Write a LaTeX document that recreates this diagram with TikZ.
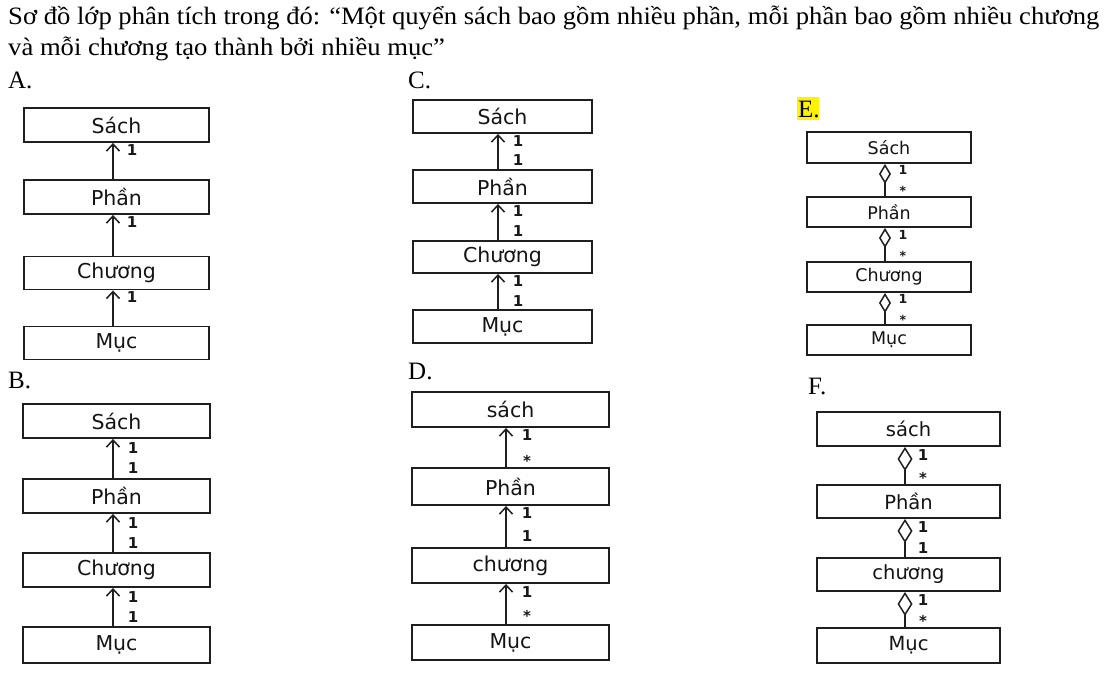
\documentclass[tikz,border=0pt]{standalone}
\usepackage{fontspec}
\setmainfont{Liberation Serif}
\newfontfamily\boxfont{DejaVu Sans}
\usetikzlibrary{arrows.meta,shapes.geometric}
\begin{document}
\begin{tikzpicture}[x=1pt,y=-1pt,
  cls/.style={draw=black!88, line width=1.9pt, fill=white, inner sep=0pt, text=black!92},
  bigf/.style={font=\boxfont\fontsize{20.5}{21}\selectfont},
  midf/.style={font=\boxfont\fontsize{19.5}{20}\selectfont},
  smlf/.style={font=\boxfont\fontsize{17.5}{18}\selectfont},
  mult/.style={inner sep=0pt, text=black!90, font=\boxfont\bfseries\fontsize{15}{15}\selectfont},
  smult/.style={inner sep=0pt, text=black!90, font=\boxfont\bfseries\fontsize{12.5}{12.5}\selectfont},
  assoc/.style={draw=black!88, line width=1.5pt, -{Straight Barb[length=7pt,width=13pt,line width=1.5pt]}},
  aggr/.style={draw=black!88, line width=1.5pt, -{Diamond[open,length=20pt,width=12pt,line width=1.5pt]}},
  aggrb/.style={draw=black!88, line width=1.5pt, -{Diamond[open,length=24pt,width=15pt,line width=1.5pt]}},
  lbl/.style={inner sep=0pt, anchor=base west, font=\fontsize{25}{25}\selectfont},
  hdr/.style={lbl, xscale=1.065}
  ]
\useasboundingbox (0,0) rectangle (1111,678);
\fill[white] (0,0) rectangle (1111,678);

% header
\node[hdr] (h1) at (8,24) {Sơ đồ lớp phân tích trong đó: “Một quyển sách bao gồm nhiều phần, mỗi phần bao gồm nhiều chương};
\node[hdr] (h2) at (8,55) {và mỗi chương tạo thành bởi nhiều mục”};
\node[lbl] (lA) at (8,88) {A.};
\node[lbl] (lC) at (408,88) {C.};
\fill[yellow] (797,97) rectangle (819,120);
\node[lbl] (lE) at (798,117) {E.};
\node[lbl] (lB) at (8,388) {B.};
\node[lbl] (lD) at (408,379) {D.};
\node[lbl] (lF) at (808,394) {F.};

% A
\node[cls,bigf,minimum width=185pt,minimum height=34pt] (a1) at (116.5,125) {Sách};
\node[cls,bigf,minimum width=185pt,minimum height=34pt] (a2) at (116.5,197) {Phần};
\node[cls,bigf,minimum width=185pt,minimum height=33pt] (a3) at (116.5,273) {Chương};
\node[cls,bigf,minimum width=185pt,minimum height=33pt] (a4) at (116.5,343) {Mục};
\draw[assoc] ([xshift=-3.5pt]a2.north) -- ([xshift=-3.5pt]a1.south);
\draw[assoc] ([xshift=-3.5pt]a3.north) -- ([xshift=-3.5pt]a2.south);
\draw[assoc] ([xshift=-3.5pt]a4.north) -- ([xshift=-3.5pt]a3.south);
\node[mult] (a1m) at (132,150) {1};
\node[mult] (a2m) at (132,222) {1};
\node[mult] (a3m) at (132,297) {1};

% C
\node[cls,bigf,minimum width=179pt,minimum height=33pt] (c1) at (502.5,116.5) {Sách};
\node[cls,bigf,minimum width=179pt,minimum height=33pt] (c2) at (502.5,186.5) {Phần};
\node[cls,bigf,minimum width=179pt,minimum height=32pt] (c3) at (502.5,257) {Chương};
\node[cls,bigf,minimum width=179pt,minimum height=33pt] (c4) at (502.5,326.5) {Mục};
\draw[assoc] ([xshift=-4.5pt]c2.north) -- ([xshift=-4.5pt]c1.south);
\draw[assoc] ([xshift=-4.5pt]c3.north) -- ([xshift=-4.5pt]c2.south);
\draw[assoc] ([xshift=-4.5pt]c4.north) -- ([xshift=-4.5pt]c3.south);
\node[mult] (c1m) at (518,141) {1};
\node[mult] (c1n) at (518,160) {1};
\node[mult] (c2m) at (518,211) {1};
\node[mult] (c2n) at (518,231) {1};
\node[mult] (c3m) at (518,281) {1};
\node[mult] (c3n) at (518,301) {1};

% E
\node[cls,smlf,minimum width=164pt,minimum height=31pt] (e1) at (889,147.5) {Sách};
\node[cls,smlf,minimum width=164pt,minimum height=30pt] (e2) at (889,212) {Phần};
\node[cls,smlf,minimum width=164pt,minimum height=30pt] (e3) at (889,277) {Chương};
\node[cls,smlf,minimum width=164pt,minimum height=30pt] (e4) at (889,340) {Mục};
\draw[aggr] ([xshift=-4pt]e2.north) -- ([xshift=-4pt]e1.south);
\draw[aggr] ([xshift=-4pt]e3.north) -- ([xshift=-4pt]e2.south);
\draw[aggr] ([xshift=-4pt]e4.north) -- ([xshift=-4pt]e3.south);
\node[smult] (e1m) at (903,170) {1};
\node[smult] (e1n) at (903,191) {*};
\node[smult] (e2m) at (903,235) {1};
\node[smult] (e2n) at (903,256) {*};
\node[smult] (e3m) at (903,299) {1};
\node[smult] (e3n) at (903,320) {*};

% B
\node[cls,bigf,minimum width=187pt,minimum height=34pt] (b1) at (116.5,421) {Sách};
\node[cls,bigf,minimum width=187pt,minimum height=34pt] (b2) at (116.5,496) {Phần};
\node[cls,bigf,minimum width=187pt,minimum height=34pt] (b3) at (116.5,570) {Chương};
\node[cls,bigf,minimum width=187pt,minimum height=36pt] (b4) at (116.5,645) {Mục};
\draw[assoc] ([xshift=-3.5pt]b2.north) -- ([xshift=-3.5pt]b1.south);
\draw[assoc] ([xshift=-3.5pt]b3.north) -- ([xshift=-3.5pt]b2.south);
\draw[assoc] ([xshift=-3.5pt]b4.north) -- ([xshift=-3.5pt]b3.south);
\node[mult] (b1m) at (133,448) {1};
\node[mult] (b1n) at (133,468) {1};
\node[mult] (b2m) at (133,523) {1};
\node[mult] (b2n) at (133,543) {1};
\node[mult] (b3m) at (133,597) {1};
\node[mult] (b3n) at (133,617) {1};

% D
\node[cls,bigf,minimum width=197pt,minimum height=35pt] (d1) at (510.5,409.5) {sách};
\node[cls,bigf,minimum width=197pt,minimum height=37pt] (d2) at (510.5,486.5) {Phần};
\node[cls,bigf,minimum width=197pt,minimum height=35pt] (d3) at (510.5,565.5) {chương};
\node[cls,bigf,minimum width=197pt,minimum height=35pt] (d4) at (510.5,642.5) {Mục};
\draw[assoc] ([xshift=-4.5pt]d2.north) -- ([xshift=-4.5pt]d1.south);
\draw[assoc] ([xshift=-4.5pt]d3.north) -- ([xshift=-4.5pt]d2.south);
\draw[assoc] ([xshift=-4.5pt]d4.north) -- ([xshift=-4.5pt]d3.south);
\node[mult] (d1m) at (527,435) {1};
\node[mult] (d1n) at (527,461) {*};
\node[mult] (d2m) at (527,513) {1};
\node[mult] (d2n) at (527,536) {1};
\node[mult] (d3m) at (527,592) {1};
\node[mult] (d3n) at (527,616) {*};

% F
\node[cls,midf,minimum width=183pt,minimum height=34pt] (f1) at (908.5,429) {sách};
\node[cls,midf,minimum width=183pt,minimum height=33pt] (f2) at (908.5,501.5) {Phần};
\node[cls,midf,minimum width=183pt,minimum height=33pt] (f3) at (908.5,574.5) {chương};
\node[cls,midf,minimum width=183pt,minimum height=35pt] (f4) at (908.5,645.5) {Mục};
\draw[aggrb] ([xshift=-3.5pt]f2.north) -- ([xshift=-3.5pt]f1.south);
\draw[aggrb] ([xshift=-3.5pt]f3.north) -- ([xshift=-3.5pt]f2.south);
\draw[aggrb] ([xshift=-3.5pt]f4.north) -- ([xshift=-3.5pt]f3.south);
\node[mult] (f1m) at (923,455) {1};
\node[mult] (f1n) at (923,478) {*};
\node[mult] (f2m) at (923,527) {1};
\node[mult] (f2n) at (923,548) {1};
\node[mult] (f3m) at (923,600) {1};
\node[mult] (f3n) at (923,621) {*};
\end{tikzpicture}
\end{document}
